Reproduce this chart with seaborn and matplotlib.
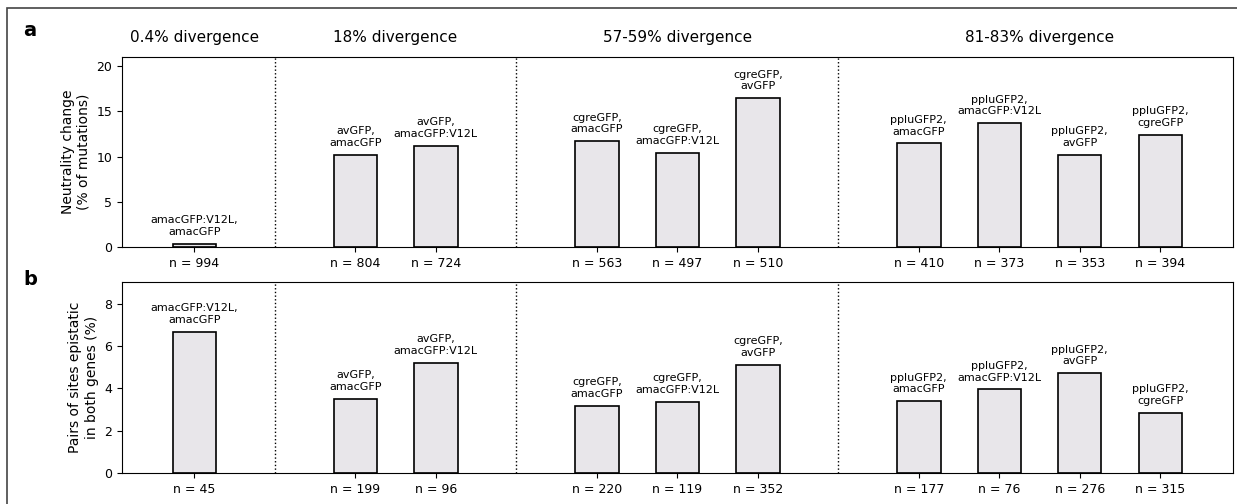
import matplotlib
matplotlib.use("Agg")
import matplotlib.pyplot as plt
from matplotlib.patches import Rectangle
from matplotlib.transforms import blended_transform_factory
import seaborn as sns

# Bar positions along the shared x axis (gaps separate divergence groups)
positions = [0, 2, 3, 5, 6, 7, 9, 10, 11, 12]

# Gene pairs compared
pair_labels = [
    "amacGFP:V12L,\namacGFP",
    "avGFP,\namacGFP",
    "avGFP,\namacGFP:V12L",
    "cgreGFP,\namacGFP",
    "cgreGFP,\namacGFP:V12L",
    "cgreGFP,\navGFP",
    "ppluGFP2,\namacGFP",
    "ppluGFP2,\namacGFP:V12L",
    "ppluGFP2,\navGFP",
    "ppluGFP2,\ncgreGFP",
]

# Panel a: neutrality change (% of mutations) and sample sizes
neutrality_change = [0.40, 10.2, 11.2, 11.72, 10.46, 16.47, 11.46, 13.67, 10.2, 12.44]
n_mutations = [994, 804, 724, 563, 497, 510, 410, 373, 353, 394]

# Panel b: pairs of sites epistatic in both genes (%) and sample sizes
epistatic_pairs = [6.67, 3.52, 5.21, 3.18, 3.36, 5.11, 3.39, 3.95, 4.71, 2.86]
n_pairs = [45, 199, 96, 220, 119, 352, 177, 76, 276, 315]

# Divergence groups: header text, header centre, divider after group
group_titles = ["0.4% divergence", "18% divergence", "57-59% divergence", "81-83% divergence"]
group_centers = [0, 2.5, 6, 10.5]
group_dividers = [1, 4, 8]

bar_color = "#e8e6ea"

fig = plt.figure(figsize=(12.37, 5.04), dpi=100)
ax_a = fig.add_axes([0.0986, 0.5093, 0.8979, 0.3776])
ax_b = fig.add_axes([0.0986, 0.0609, 0.8979, 0.3790])


def draw_panel(ax, values, counts, ylim, yticks, ylabel):
    sns.barplot(x=positions, y=values, native_scale=True, width=0.54,
                color=bar_color, saturation=1, edgecolor="black",
                linewidth=1.2, ax=ax)
    for x, v, lab in zip(positions, values, pair_labels):
        ax.annotate(lab, xy=(x, v), xytext=(0, 5), textcoords="offset points",
                    ha="center", va="bottom", fontsize=8)
    for d in group_dividers:
        ax.axvline(d, color="black", linestyle=":", linewidth=1)
    ax.set_xlim(-0.9, 12.9)
    ax.set_ylim(*ylim)
    ax.set_yticks(yticks)
    ax.set_xticks(positions)
    ax.set_xticklabels([f"n = {n}" for n in counts])
    ax.tick_params(labelsize=9)
    ax.set_xlabel("")
    ax.set_ylabel(ylabel, fontsize=10)


draw_panel(ax_a, neutrality_change, n_mutations, (0, 21), [0, 5, 10, 15, 20],
           "Neutrality change\n(% of mutations)")
draw_panel(ax_b, epistatic_pairs, n_pairs, (0, 9), [0, 2, 4, 6, 8],
           "Pairs of sites epistatic\nin both genes (%)")

trans = blended_transform_factory(ax_a.transData, ax_a.transAxes)
for title, cx in zip(group_titles, group_centers):
    ax_a.text(cx, 1.10, title, transform=trans, ha="center", va="center", fontsize=11)

fig.text(0.019, 0.940, "a", fontsize=14, fontweight="bold", ha="left", va="center")
fig.text(0.019, 0.446, "b", fontsize=14, fontweight="bold", ha="left", va="center")

# Outer frame around the figure
fig.patches.append(Rectangle((0.0057, -0.2), 1.2, 1.184, transform=fig.transFigure,
                             fill=False, edgecolor="#444444", linewidth=1.2))

fig.savefig("out.png", dpi=100)
